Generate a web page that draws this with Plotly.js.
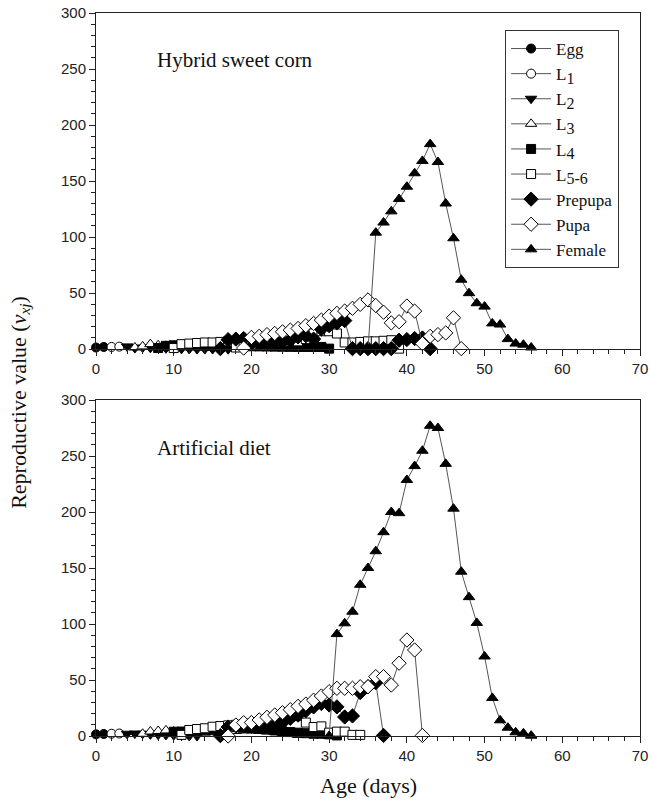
<!DOCTYPE html>
<html>
<head>
<meta charset="utf-8">
<script src="https://cdn.plot.ly/plotly-3.0.1.min.js"></script>
<style>html,body{margin:0;padding:0;background:#fff;}#chart{width:650px;height:805px;}</style>
</head>
<body>
<div id="chart"></div>
<script>
// ---------- Stage names (legend) ----------
const stageNames = ['Egg', 'L<sub><span style="font-size:16px">1</span></sub>', 'L<sub><span style="font-size:16px">2</span></sub>',
  'L<sub><span style="font-size:16px">3</span></sub>', 'L<sub><span style="font-size:16px">4</span></sub>',
  'L<sub><span style="font-size:16px">5-6</span></sub>', 'Prepupa', 'Pupa', 'Female'];

// ---------- Hybrid sweet corn (top panel) ----------
const cornEggAge = [0, 1];
const cornEggV = [1.5, 2];
const cornL1Age = [2, 3];
const cornL1V = [2, 2.3];
const cornL2Age = [4, 5, 6, 7, 8, 9, 10, 11, 12, 13, 14, 15, 16, 17];
const cornL2V = [2.5, 1, 1.5, 1.2, 1, 0.8, 0.5, 0.3, 0.2, 0.1, 0.1, 0.1, 0, 0];
const cornL3Age = [5, 6, 7, 8, 9, 10];
const cornL3V = [1.5, 2.5, 4.5, 3.5, 3, 2];
const cornL4Age = [8, 9, 10, 11, 12, 13, 14, 15, 16, 17, 18, 19, 20, 21, 22, 23, 24, 25, 26, 27, 28, 29, 30];
const cornL4V = [1, 3, 3.5, 3.5, 3.5, 3.3, 3.2, 3, 3, 3, 2.8, 2.7, 2.6, 2.5, 2.4, 2.3, 2.2, 2.1, 2, 2, 2, 2, 0.5];
const cornL56Age = [10, 11, 12, 13, 14, 15, 16, 17, 18, 19, 20, 21, 22, 23, 24, 25, 26, 27, 28, 29, 30, 31, 32, 33, 34, 35, 36, 37, 38, 39];
const cornL56V = [1, 4.5, 5, 5.5, 6, 6, 6.5, 7, 1.5, 3, 4, 5, 5.5, 6, 6.5, 7, 7, 9, 14, 16, 16, 14, 6, 6, 6.5, 7, 7, 7.5, 8, 0.5];
const cornPrepupaAge = [16, 17, 18, 19, 20, 21, 22, 23, 24, 25, 26, 27, 28, 29, 30, 31, 32, 33, 34, 35, 36, 37, 38, 39, 40, 41, 42, 43];
const cornPrepupaV = [0.5, 8.5, 9, 9.5, 5, 5, 5.5, 6, 7, 8, 11, 12, 9, 18, 21, 23.5, 25.5, 0.5, 0.5, 0.5, 0.5, 0.5, 0.5, 8, 8.6, 9.5, 10, 0.5];
const cornPupaAge = [19, 20, 21, 22, 23, 24, 25, 26, 27, 28, 29, 30, 31, 32, 33, 34, 35, 36, 37, 38, 39, 40, 41, 42, 43, 44, 45, 46, 47];
const cornPupaV = [1, 10.5, 11.5, 13, 14, 15.5, 17, 18.5, 21, 23, 26, 29.5, 32, 34, 36.5, 40, 44, 39, 33, 23.5, 24.5, 38.5, 34, 5, 11.5, 13, 14.5, 28, 0.5];
const cornFemaleAge = [35, 36, 37, 38, 39, 40, 41, 42, 43, 44, 45, 46, 47, 48, 49, 50, 51, 52, 53, 54, 55, 56];
const cornFemaleV = [0, 104, 113, 123, 134, 145, 157, 168, 183, 167, 130, 99, 62, 50, 41, 38, 23, 22, 9, 5, 4, 1.5];

// ---------- Artificial diet (bottom panel) ----------
const dietEggAge = [0, 1];
const dietEggV = [1.5, 1.8];
const dietL1Age = [2, 3];
const dietL1V = [2, 2.2];
const dietL2Age = [4, 5, 6, 7, 8, 9, 10, 11, 12, 13];
const dietL2V = [2, 2.2, 2, 1.5, 1.2, 1, 0.8, 0.3, 0.1, 0];
const dietL3Age = [6, 7, 8, 9, 10, 11, 12, 13, 14, 15, 16, 17, 18, 19, 20, 21, 22, 23, 24, 25, 26];
const dietL3V = [2, 4, 4.5, 5, 4, 3.5, 3, 3, 3, 3.5, 4, 4.5, 4.5, 5, 5, 4.5, 4, 3.5, 3, 2, 1];
const dietL4Age = [10, 11, 12, 13, 14, 15, 16, 17, 18, 19, 20, 21, 22, 23, 24, 25, 26, 27, 28, 29, 30, 31];
const dietL4V = [3.8, 4, 4.5, 5, 5.5, 6, 7, 8, 8, 7.5, 7, 6.5, 6, 5, 4, 3.5, 3, 2.5, 2, 2, 1.5, 0.5];
const dietL56Age = [11, 12, 13, 14, 15, 16, 17, 18, 19, 20, 21, 22, 23, 24, 25, 26, 27, 28, 29, 30, 31, 32, 33, 34];
const dietL56V = [1, 5.4, 6.2, 6.9, 8.3, 8.9, 9.5, 10, 10.5, 11, 11.5, 12, 13, 15, 17, 18, 12, 8, 8.6, 3, 3.9, 3.9, 1, 1];
const dietPrepupaAge = [16, 17, 18, 19, 20, 21, 22, 23, 24, 25, 26, 27, 28, 29, 30, 31, 32, 33, 34, 35, 36, 37];
const dietPrepupaV = [0.3, 8, 9, 9, 8.5, 8.5, 9, 10, 12, 15.8, 18.7, 22.6, 26, 29, 27.7, 26, 17, 17.9, 38.7, 44, 47.6, 0.5];
const dietPupaAge = [17, 18, 19, 20, 21, 22, 23, 24, 25, 26, 27, 28, 29, 30, 31, 32, 33, 34, 35, 36, 37, 38, 39, 40, 41, 42];
const dietPupaV = [0, 9.8, 11.9, 12, 14.3, 16.7, 18.75, 20.8, 23.5, 26.5, 28.5, 32, 35.7, 39.6, 42.6, 42.6, 42.6, 44, 44, 53, 53, 45.5, 65, 85.7, 76.8, 0.5];
const dietFemaleAge = [30, 31, 32, 33, 34, 35, 36, 37, 38, 39, 40, 41, 42, 43, 44, 45, 46, 47, 48, 49, 50, 51, 52, 53, 54, 55, 56];
const dietFemaleV = [0, 91, 100.6, 111, 135, 150, 165, 182, 200, 199, 228.6, 241, 254.7, 277, 275, 243, 203, 146.7, 124, 101, 71, 34, 14, 7.4, 3.3, 2.4, 0.3];

// ---------- Styles ----------
const markerStyles = [
  {symbol: 'circle', color: '#000', size: 9},
  {symbol: 'circle', color: '#fff', size: 9},
  {symbol: 'triangle-down', color: '#000', size: 10},
  {symbol: 'triangle-up', color: '#fff', size: 10},
  {symbol: 'square', color: '#000', size: 9},
  {symbol: 'square', color: '#fff', size: 9},
  {symbol: 'diamond', color: '#000', size: 11},
  {symbol: 'diamond', color: '#fff', size: 11},
  {symbol: 'triangle-up', color: '#000', size: 10}
];

const cornSeries = [
  [cornEggAge, cornEggV], [cornL1Age, cornL1V], [cornL2Age, cornL2V], [cornL3Age, cornL3V],
  [cornL4Age, cornL4V], [cornL56Age, cornL56V], [cornPrepupaAge, cornPrepupaV],
  [cornPupaAge, cornPupaV], [cornFemaleAge, cornFemaleV]
];
const dietSeries = [
  [dietEggAge, dietEggV], [dietL1Age, dietL1V], [dietL2Age, dietL2V], [dietL3Age, dietL3V],
  [dietL4Age, dietL4V], [dietL56Age, dietL56V], [dietPrepupaAge, dietPrepupaV],
  [dietPupaAge, dietPupaV], [dietFemaleAge, dietFemaleV]
];

const traces = [];
function addTraces(series, xa, ya, showLegend) {
  series.forEach((s, i) => {
    const m = markerStyles[i];
    traces.push({
      x: s[0], y: s[1], xaxis: xa, yaxis: ya,
      type: 'scatter', mode: 'lines+markers',
      name: stageNames[i], legendgroup: 'g' + i, showlegend: showLegend,
      cliponaxis: false,
      line: {color: '#555', width: 1},
      marker: {symbol: m.symbol, color: m.color, size: m.size, line: {color: '#000', width: 1}}
    });
  });
}
addTraces(cornSeries, 'x', 'y', true);
addTraces(dietSeries, 'x2', 'y2', false);

const tickFont = {family: 'Liberation Sans, Arial, sans-serif', size: 15, color: '#222'};
const serif = 'Liberation Serif, Times New Roman, serif';

function xAxis(anchor) {
  return {
    anchor: anchor, range: [0, 70], dtick: 10, tick0: 0,
    showline: true, linecolor: '#222', linewidth: 1, mirror: true,
    ticks: 'outside', ticklen: 6, tickcolor: '#222', tickwidth: 1,
    minor: {dtick: 2, ticks: 'outside', ticklen: 4, tickcolor: '#222'},
    showgrid: false, zeroline: false, tickfont: tickFont
  };
}
function yAxis(anchor, domain) {
  return {
    anchor: anchor, domain: domain, range: [0, 300], dtick: 50, tick0: 0,
    showline: true, linecolor: '#222', linewidth: 1, mirror: true,
    ticks: 'outside', ticklen: 6, tickcolor: '#222', tickwidth: 1,
    minor: {dtick: 10, ticks: 'outside', ticklen: 4, tickcolor: '#222'},
    showgrid: false, zeroline: false, tickfont: tickFont
  };
}

const layout = {
  width: 650, height: 805,
  margin: {l: 96, r: 10, t: 13, b: 69},
  paper_bgcolor: '#fff', plot_bgcolor: '#fff',
  xaxis: xAxis('y'),
  yaxis: yAxis('x', [0.535, 1]),
  xaxis2: xAxis('y2'),
  yaxis2: yAxis('x2', [0, 0.4647]),
  showlegend: true,
  legend: {
    x: 0.752, y: 0.9765, xanchor: 'left', yanchor: 'top',
    bgcolor: '#fff', bordercolor: '#333', borderwidth: 1,
    font: {family: serif, size: 17, color: '#111'},
    itemwidth: 40, tracegroupgap: 0
  },
  annotations: [
    {text: 'Hybrid sweet corn', xref: 'paper', yref: 'paper', x: 0.108, y: 0.935,
     xanchor: 'left', yanchor: 'middle', showarrow: false, font: {family: serif, size: 21, color: '#111'}},
    {text: 'Artificial diet', xref: 'paper', yref: 'paper', x: 0.108, y: 0.398,
     xanchor: 'left', yanchor: 'middle', showarrow: false, font: {family: serif, size: 21, color: '#111'}},
    {text: 'Reproductive value (<i>v</i><sub><i>xj</i></sub>)', xref: 'paper', yref: 'paper',
     x: -0.14, y: 0.462, xanchor: 'center', yanchor: 'middle', textangle: -90, showarrow: false,
     font: {family: serif, size: 22, color: '#111'}},
    {text: 'Age (days)', xref: 'paper', yref: 'paper', x: 0.5, y: -0.068,
     xanchor: 'center', yanchor: 'middle', showarrow: false, font: {family: serif, size: 22, color: '#111'}}
  ]
};

Plotly.newPlot('chart', traces, layout, {displayModeBar: false, staticPlot: true});
</script>
</body>
</html>
